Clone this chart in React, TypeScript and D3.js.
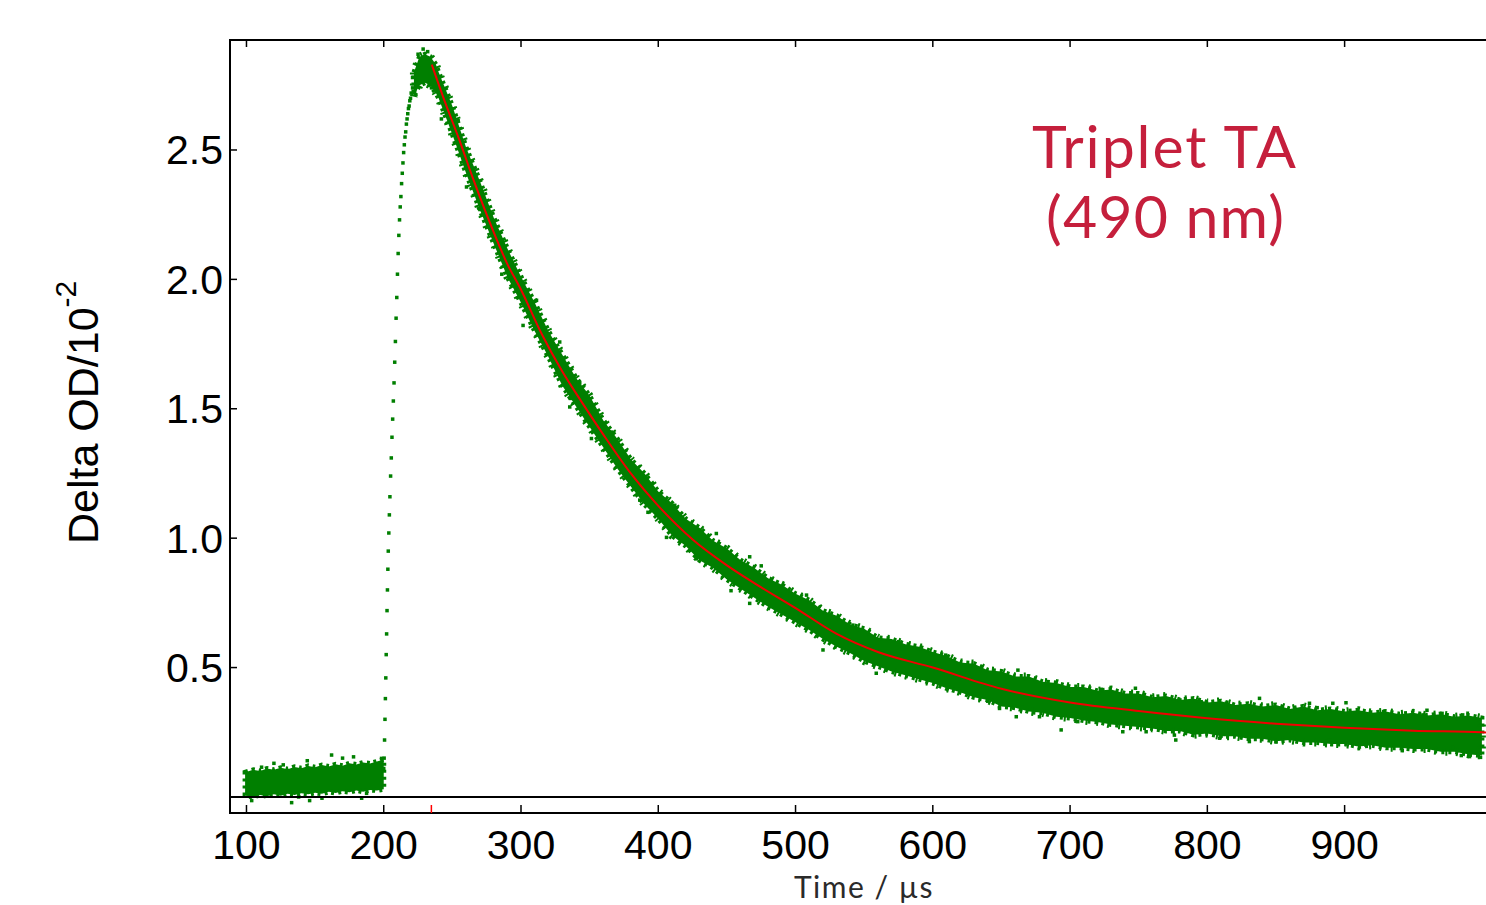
import React from 'react';
import * as d3 from 'd3';

// ---- data ----
const xTicks = [100, 200, 300, 400, 500, 600, 700, 800, 900];
const yTicks = [0.5, 1.0, 1.5, 2.0, 2.5];
const yTickLabels = ['0.5', '1.0', '1.5', '2.0', '2.5'];
const fitStart = 234.7;

// pre-trigger baseline band (lower / upper edge of the dense scatter)
const baseT = [99, 105, 110, 115, 120, 125, 130, 135, 140, 145, 150, 155, 160, 165, 170, 175, 180, 185, 190, 195, 200];
const baseLo = [0.006, 0.0, 0.008, 0.003, 0.01, 0.005, 0.012, 0.008, 0.014, 0.01, 0.016, 0.012, 0.02, 0.015, 0.022, 0.018, 0.025, 0.02, 0.027, 0.025, 0.03];
const baseHi = [0.095, 0.105, 0.1, 0.11, 0.105, 0.113, 0.107, 0.116, 0.111, 0.12, 0.115, 0.123, 0.118, 0.126, 0.121, 0.13, 0.125, 0.133, 0.129, 0.137, 0.145];

// rising edge points
const riseT = [200.0, 200.3, 200.6, 200.9, 201.2, 201.5, 201.8, 202.1, 202.4, 202.7, 203.0, 203.3, 203.7, 204.1, 204.5, 205.0, 205.5, 206.0, 206.5, 207.0, 207.5, 208.0, 208.5, 209.0, 209.5, 210.0, 210.5, 211.0, 211.5, 212.0, 212.5, 213.0, 213.5, 214.0, 214.5, 215.0, 215.5, 216.0, 216.5, 217.0, 217.5, 218.0, 218.5, 219.0, 219.5, 220.0, 221.0];
const riseV = [0.11, 0.15, 0.22, 0.30, 0.38, 0.46, 0.55, 0.63, 0.72, 0.80, 0.88, 0.95, 1.02, 1.09, 1.16, 1.24, 1.31, 1.39, 1.46, 1.53, 1.60, 1.68, 1.76, 1.85, 1.93, 2.02, 2.10, 2.17, 2.23, 2.28, 2.32, 2.37, 2.41, 2.45, 2.49, 2.52, 2.55, 2.57, 2.60, 2.62, 2.64, 2.66, 2.67, 2.69, 2.70, 2.72, 2.74];

// decay band (lower / upper edge of the dense scatter)
const bandT = [222, 226, 230, 234, 238, 240, 250, 260, 270, 280, 290, 300, 310, 320, 330, 340, 350, 360, 370, 380, 390, 400, 410, 420, 430, 440, 450, 460, 470, 480, 490, 500, 510, 520, 530, 540, 550, 560, 570, 580, 590, 600, 610, 620, 630, 640, 650, 660, 670, 680, 690, 700, 710, 720, 730, 740, 750, 760, 770, 780, 790, 800, 810, 820, 830, 840, 850, 860, 870, 880, 890, 900, 910, 920, 930, 940, 950, 960, 970, 980, 990, 1000];
const bandLo = [2.71, 2.75, 2.76, 2.75, 2.72, 2.70, 2.56, 2.41, 2.27, 2.14, 2.01, 1.91, 1.80, 1.70, 1.59, 1.51, 1.43, 1.35, 1.27, 1.20, 1.13, 1.075, 1.01, 0.97, 0.915, 0.885, 0.84, 0.805, 0.77, 0.735, 0.705, 0.675, 0.645, 0.61, 0.58, 0.555, 0.525, 0.505, 0.485, 0.47, 0.455, 0.44, 0.42, 0.405, 0.385, 0.375, 0.35, 0.345, 0.33, 0.325, 0.31, 0.305, 0.295, 0.29, 0.28, 0.275, 0.27, 0.265, 0.255, 0.255, 0.24, 0.245, 0.235, 0.235, 0.225, 0.225, 0.215, 0.22, 0.21, 0.21, 0.205, 0.205, 0.195, 0.2, 0.19, 0.19, 0.185, 0.185, 0.175, 0.175, 0.165, 0.16];
const bandHi = [2.80, 2.86, 2.87, 2.86, 2.83, 2.80, 2.67, 2.51, 2.38, 2.24, 2.12, 2.01, 1.91, 1.80, 1.71, 1.62, 1.55, 1.455, 1.385, 1.305, 1.25, 1.18, 1.135, 1.075, 1.04, 0.99, 0.96, 0.915, 0.885, 0.845, 0.82, 0.785, 0.76, 0.72, 0.70, 0.665, 0.65, 0.615, 0.61, 0.59, 0.58, 0.56, 0.545, 0.52, 0.515, 0.49, 0.485, 0.465, 0.465, 0.445, 0.44, 0.425, 0.425, 0.41, 0.415, 0.40, 0.40, 0.385, 0.39, 0.375, 0.38, 0.365, 0.37, 0.355, 0.36, 0.35, 0.355, 0.34, 0.35, 0.335, 0.34, 0.33, 0.335, 0.325, 0.33, 0.32, 0.325, 0.315, 0.32, 0.31, 0.315, 0.305];

// stray points outside the dense band
const outT = [103.8, 111, 120, 126.8, 132.9, 138, 144.3, 146, 155, 162, 170, 178, 183.9, 187.5, 198.4,
  221, 225, 228.7, 232, 234.8, 242, 254.2, 260.3, 270, 286, 301.5, 311.3, 328.2, 336,
  335.5, 342.8, 351.3, 365.9, 376.8, 386.5, 392.5, 406, 412, 427.8, 437.5, 442.3, 453, 466.6, 466.6, 475, 488.5, 503, 508, 520, 529.7, 541.8,
  558.8, 575, 578, 609.3, 626.7, 640, 648.6, 660.8, 662, 677.7, 693.5, 705.6, 722.6, 738.4, 747.6, 755.4, 765.3, 776, 777,
  780, 795.5, 809, 810, 813.8, 830.6, 838, 850, 874.4, 880, 889, 891.4, 901, 915.6, 927.8, 928.5, 942, 957, 960, 971, 979, 985, 986, 991, 999];
const outV = [-0.014, 0.115, 0.13, 0.124, -0.022, 0.0, 0.14, -0.014, -0.005, 0.162, 0.15, 0.155, -0.005, 0.014, 0.149,
  2.78, 2.87, 2.89, 2.88, 2.74, 2.62, 2.614, 2.357, 2.27, 2.02, 1.822, 1.919, 1.758, 1.54,
  1.507, 1.60, 1.385, 1.41, 1.237, 1.147, 1.10, 1.003, 1.127, 0.92, 0.915, 1.018, 0.797, 0.928, 0.748, 0.893, 0.786, 0.709, 0.78, 0.568, 0.593, 0.664,
  0.478, 0.6, 0.574, 0.548, 0.478, 0.37, 0.342, 0.31, 0.49, 0.31, 0.259, 0.291, 0.416, 0.252, 0.42, 0.252, 0.375, 0.239, 0.22,
  0.375, 0.368, 0.227, 0.235, 0.362, 0.214, 0.381, 0.214, 0.362, 0.345, 0.22, 0.362, 0.364, 0.2, 0.207, 0.33, 0.179, 0.317, 0.335, 0.323, 0.192, 0.16, 0.317, 0.156, 0.153];

// exponential fit (red)
const fitT = [235, 245, 255, 265, 275, 290, 300, 315, 330, 345, 360, 380, 400, 425, 450, 475, 500, 530, 560, 600, 650, 700, 750, 800, 850, 900, 950, 1000, 1003];
const fitV = [2.83, 2.68, 2.54, 2.39, 2.25, 2.06, 1.96, 1.79, 1.645, 1.52, 1.40, 1.25, 1.125, 0.995, 0.895, 0.81, 0.73, 0.63, 0.56, 0.50, 0.418, 0.365, 0.332, 0.304, 0.283, 0.267, 0.256, 0.25, 0.249];

const W = 1486;
const H = 905;
const GREEN = '#007f00';
const ARIAL = '"Liberation Sans", Arial, Helvetica, sans-serif';
const SANS2 = 'Lato, "Open Sans", sans-serif';

export default function App() {
  const x = d3.scaleLinear().domain([88, 1003]).range([230, 1486]);
  const y = d3.scaleLinear().domain([-0.062, 2.925]).range([813, 40]);
  const x0 = 230, x1 = 1500, yTop = 40, yBot = 813;

  const baseArea = d3.area<number>()
    .x((i) => x(baseT[i]))
    .y0((i) => y(baseLo[i]))
    .y1((i) => y(baseHi[i]))
    .curve(d3.curveLinear)(baseT.map((_, i) => i)) || '';
  const bandArea = d3.area<number>()
    .x((i) => x(bandT[i]))
    .y0((i) => y(bandLo[i]))
    .y1((i) => y(bandHi[i]))
    .curve(d3.curveLinear)(bandT.map((_, i) => i)) || '';
  const fitPath = d3.line<number>()
    .x((i) => x(fitT[i]))
    .y((i) => y(fitV[i]))
    .curve(d3.curveMonotoneX)(fitT.map((_, i) => i)) || '';

  const sq = 3.5;

  return (
    <svg width={W} height={H} style={{ position: 'absolute', left: 0, top: 0, background: '#fff' }}>
      <rect x={0} y={0} width={W} height={H} fill="#fff" />
      {/* data */}
      <g>
        <path d={baseArea} fill={GREEN} stroke={GREEN} strokeWidth={5} strokeDasharray="3 4" />
        <path d={bandArea} fill={GREEN} stroke={GREEN} strokeWidth={5} strokeDasharray="3 4" />
        <path d={bandArea} fill="none" stroke={GREEN} strokeWidth={8} strokeDasharray="2 9" strokeDashoffset={4} />
        {riseT.map((t, i) => (
          <rect key={'r' + i} x={x(t) - sq / 2} y={y(riseV[i]) - sq / 2} width={sq} height={sq} fill={GREEN} />
        ))}
        {outT.map((t, i) => (
          <rect key={'o' + i} x={x(t) - sq / 2} y={y(outV[i]) - sq / 2} width={sq} height={sq} fill={GREEN} />
        ))}
        <path d={fitPath} fill="none" stroke="#f00000" strokeWidth={2} />
      </g>
      {/* frame */}
      <line x1={x0} x2={x0} y1={yTop - 1} y2={yBot + 1} stroke="#000" strokeWidth={2} />
      <line x1={x0} x2={x1} y1={yTop} y2={yTop} stroke="#000" strokeWidth={2} />
      <line x1={x0} x2={x1} y1={yBot} y2={yBot} stroke="#000" strokeWidth={2} />
      <line x1={x0} x2={x1} y1={y(0)} y2={y(0)} stroke="#000" strokeWidth={2} />
      {/* x ticks */}
      {xTicks.map((t) => (
        <g key={'xt' + t}>
          <line x1={x(t)} x2={x(t)} y1={yBot} y2={yBot - 8} stroke="#000" strokeWidth={1.5} />
          <line x1={x(t)} x2={x(t)} y1={yTop} y2={yTop + 7} stroke="#000" strokeWidth={1.5} />
          <text x={x(t)} y={859} textAnchor="middle" fontFamily={ARIAL} fontSize={41} fill="#000">{t}</text>
        </g>
      ))}
      <line x1={x(fitStart)} x2={x(fitStart)} y1={yBot} y2={yBot - 8} stroke="#ff0000" strokeWidth={1.5} />
      {/* y ticks */}
      {yTicks.map((v, i) => (
        <g key={'yt' + v}>
          <line x1={x0} x2={x0 + 7} y1={y(v)} y2={y(v)} stroke="#000" strokeWidth={1.5} />
          <text x={223} y={y(v) + 14.5} textAnchor="end" fontFamily={ARIAL} fontSize={41} fill="#000">{yTickLabels[i]}</text>
        </g>
      ))}
      {/* axis titles */}
      <text transform="translate(98,544) rotate(-90)" fontFamily={ARIAL} fontSize={43} fill="#000">
        Delta OD/10<tspan fontSize={30} dy={-22}>-2</tspan>
      </text>
      <text x={864} y={898} textAnchor="middle" fontFamily={SANS2} fontSize={30} letterSpacing={1.5} fill="#2a2a2a">Time / µs</text>
      {/* annotation */}
      <text x={1164} y={168} textAnchor="middle" fontFamily={SANS2} fontSize={59} fill="#c51f3c" textLength={264} lengthAdjust="spacing">Triplet TA</text>
      <text x={1165} y={238} textAnchor="middle" fontFamily={SANS2} fontSize={59} fill="#c51f3c" textLength={238} lengthAdjust="spacing">(490 nm)</text>
    </svg>
  );
}
